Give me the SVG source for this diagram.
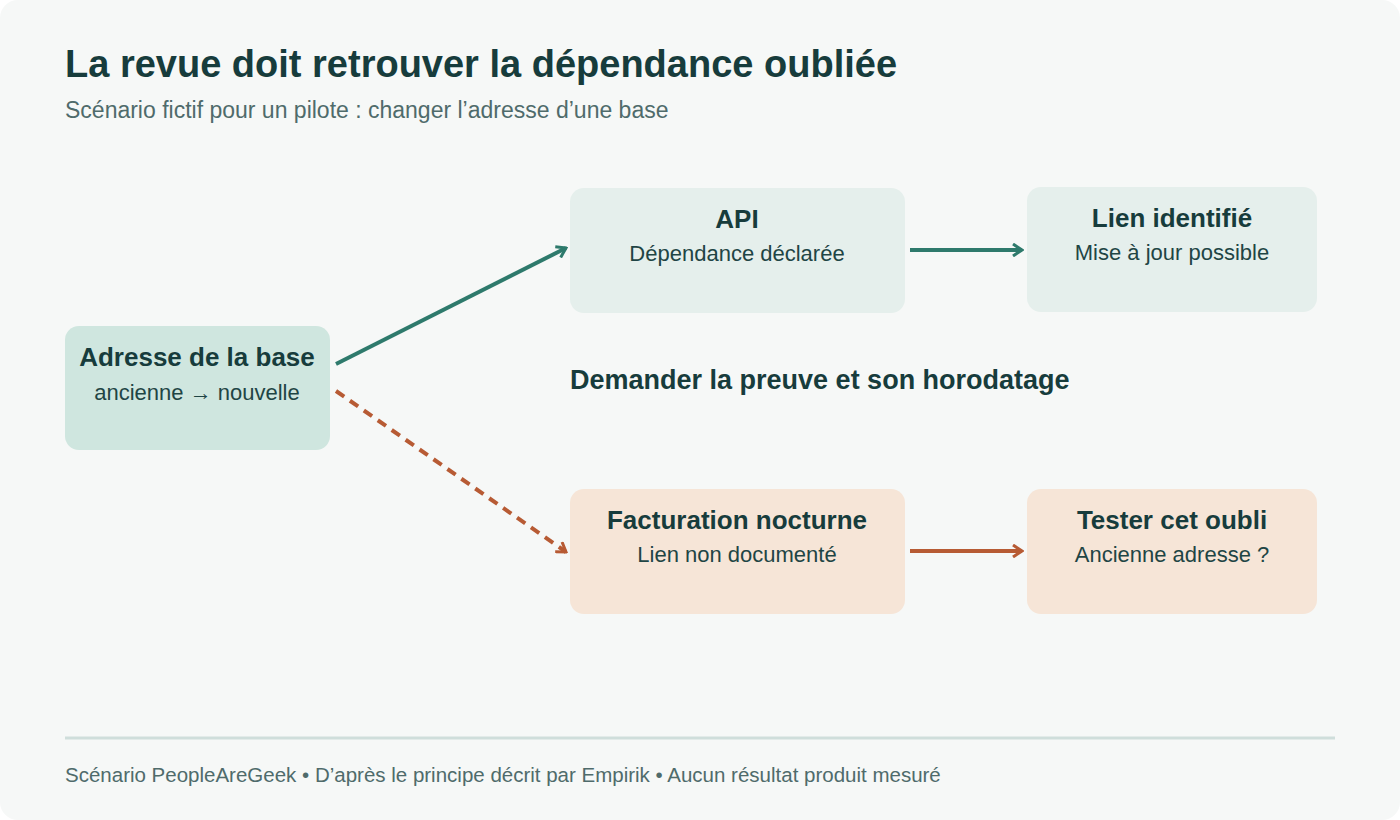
<svg xmlns="http://www.w3.org/2000/svg" width="1400" height="820" viewBox="0 0 1400 820">
<style>
text{font-family:"Liberation Sans",Arial,sans-serif}
.t{font-size:26px;font-weight:bold;fill:#173c3c;text-anchor:middle}
.s{font-size:22px;fill:#1f4545;text-anchor:middle}
.g{stroke:#2e7a6c;stroke-width:4;fill:none}
.o{stroke:#b75b34;stroke-width:4;fill:none}
</style>
<defs>
<marker id="ag" viewBox="0 0 14 14" refX="12" refY="7" markerWidth="14" markerHeight="14" markerUnits="userSpaceOnUse" orient="auto"><path d="M3,1 L12,7 L3,13" fill="none" stroke="#2e7a6c" stroke-width="3"/></marker>
<marker id="ao" viewBox="0 0 14 14" refX="12" refY="7" markerWidth="14" markerHeight="14" markerUnits="userSpaceOnUse" orient="auto"><path d="M3,1 L12,7 L3,13" fill="none" stroke="#b75b34" stroke-width="3"/></marker>
</defs>
<rect width="1400" height="820" rx="18" fill="#f6f8f7"/>
<text x="65" y="77" font-size="38" font-weight="bold" fill="#173c3c">La revue doit retrouver la dépendance oubliée</text>
<text x="65" y="118" font-size="23" fill="#4f6b6b">Scénario fictif pour un pilote : changer l’adresse d’une base</text>
<g id="connectors">
<line class="g" x1="336" y1="364" x2="566" y2="248" marker-end="url(#ag)"/>
<line class="g" x1="910" y1="250" x2="1022" y2="250" marker-end="url(#ag)"/>
<line class="o" x1="336" y1="391" x2="566" y2="552" stroke-dasharray="10 7" marker-end="url(#ao)"/>
<line class="o" x1="910" y1="551" x2="1022" y2="551" marker-end="url(#ao)"/>
</g>
<g id="n-source"><rect x="65" y="326" width="265" height="124" rx="14" fill="#cfe6df"/><text class="t" x="197" y="366">Adresse de la base</text><text class="s" x="197" y="400">ancienne → nouvelle</text></g>
<g id="n-api"><rect x="570" y="188" width="335" height="125" rx="14" fill="#e5efec"/><text class="t" x="737" y="228">API</text><text class="s" x="737" y="261">Dépendance déclarée</text></g>
<g id="n-lien"><rect x="1027" y="187" width="290" height="125" rx="14" fill="#e5efec"/><text class="t" x="1172" y="227">Lien identifié</text><text class="s" x="1172" y="260">Mise à jour possible</text></g>
<g id="n-fact"><rect x="570" y="489" width="335" height="125" rx="14" fill="#f6e5d7"/><text class="t" x="737" y="529">Facturation nocturne</text><text class="s" x="737" y="562">Lien non documenté</text></g>
<g id="n-test"><rect x="1027" y="489" width="290" height="125" rx="14" fill="#f6e5d7"/><text class="t" x="1172" y="529">Tester cet oubli</text><text class="s" x="1172" y="562">Ancienne adresse ?</text></g>
<text x="570" y="389" font-size="27" font-weight="bold" fill="#173c3c">Demander la preuve et son horodatage</text>
<line x1="65" y1="738" x2="1335" y2="738" stroke="#cfdedb" stroke-width="3"/>
<text x="65" y="782" font-size="20.5" fill="#4f6b6b">Scénario PeopleAreGeek • D’après le principe décrit par Empirik • Aucun résultat produit mesuré</text>
</svg>
